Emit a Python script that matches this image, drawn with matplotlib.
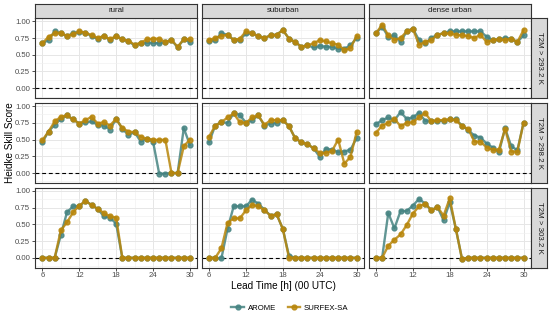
import numpy as np
import matplotlib
matplotlib.use("Agg")
import matplotlib.pyplot as plt
from matplotlib.lines import Line2D
from matplotlib.ticker import MultipleLocator

plt.rcParams['font.family'] = ['Liberation Sans', 'DejaVu Sans']

hours = list(range(6, 31))
areas = ['rural', 'suburban', 'dense urban']
thresholds = ['T2M > 293.2 K', 'T2M > 298.2 K', 'T2M > 303.2 K']

# T2M > 293.2 K
arome_rural_293 = [0.67, 0.72, 0.85, 0.82, 0.78, 0.82, 0.84, 0.83, 0.78, 0.74, 0.78, 0.72, 0.78,
                   0.73, 0.70, 0.64, 0.67, 0.68, 0.68, 0.67, 0.69, 0.72, 0.61, 0.73, 0.69]
surfex_rural_293 = [0.67, 0.77, 0.82, 0.83, 0.78, 0.81, 0.85, 0.83, 0.79, 0.75, 0.78, 0.73, 0.78,
                    0.73, 0.71, 0.65, 0.68, 0.73, 0.74, 0.74, 0.69, 0.72, 0.62, 0.73, 0.73]
arome_suburban_293 = [0.70, 0.72, 0.82, 0.80, 0.72, 0.72, 0.82, 0.82, 0.78, 0.75, 0.79, 0.80, 0.87,
                      0.74, 0.69, 0.62, 0.64, 0.61, 0.63, 0.62, 0.62, 0.59, 0.59, 0.64, 0.75]
surfex_suburban_293 = [0.72, 0.75, 0.78, 0.80, 0.72, 0.74, 0.85, 0.82, 0.78, 0.75, 0.79, 0.80, 0.87,
                       0.74, 0.69, 0.62, 0.64, 0.67, 0.72, 0.70, 0.67, 0.65, 0.57, 0.60, 0.78]
arome_dense_293 = [0.82, 0.92, 0.77, 0.79, 0.69, 0.85, 0.89, 0.72, 0.67, 0.75, 0.80, 0.82, 0.85,
                   0.85, 0.85, 0.85, 0.85, 0.85, 0.77, 0.72, 0.73, 0.75, 0.74, 0.69, 0.79]
surfex_dense_293 = [0.82, 0.95, 0.79, 0.72, 0.75, 0.85, 0.89, 0.65, 0.69, 0.72, 0.80, 0.82, 0.82,
                    0.80, 0.79, 0.78, 0.75, 0.80, 0.69, 0.72, 0.73, 0.72, 0.74, 0.69, 0.87]

# T2M > 298.2 K
arome_rural_298 = [0.46, 0.62, 0.72, 0.81, 0.86, 0.80, 0.74, 0.76, 0.77, 0.72, 0.71, 0.65, 0.81,
                   0.66, 0.57, 0.61, 0.47, 0.51, 0.47, -0.01, -0.01, 0.0, 0.0, 0.67, 0.42]
surfex_rural_298 = [0.49, 0.62, 0.77, 0.84, 0.86, 0.80, 0.74, 0.79, 0.84, 0.74, 0.76, 0.71, 0.81,
                    0.67, 0.62, 0.61, 0.54, 0.51, 0.50, 0.49, 0.50, 0.0, 0.0, 0.40, 0.50]
arome_suburban_298 = [0.46, 0.71, 0.76, 0.75, 0.89, 0.87, 0.75, 0.79, 0.86, 0.71, 0.74, 0.75, 0.79,
                      0.70, 0.52, 0.46, 0.43, 0.37, 0.24, 0.36, 0.35, 0.31, 0.32, 0.35, 0.52]
surfex_suburban_298 = [0.54, 0.71, 0.76, 0.83, 0.89, 0.76, 0.75, 0.83, 0.86, 0.72, 0.79, 0.79, 0.79,
                       0.70, 0.52, 0.46, 0.43, 0.37, 0.30, 0.30, 0.33, 0.50, 0.14, 0.24, 0.61]
arome_dense_298 = [0.73, 0.79, 0.83, 0.79, 0.91, 0.81, 0.83, 0.90, 0.78, 0.78, 0.78, 0.78, 0.80,
                   0.80, 0.71, 0.64, 0.56, 0.53, 0.44, 0.38, 0.31, 0.67, 0.40, 0.34, 0.75]
surfex_dense_298 = [0.60, 0.71, 0.75, 0.81, 0.70, 0.75, 0.76, 0.83, 0.90, 0.77, 0.79, 0.79, 0.80,
                    0.79, 0.70, 0.66, 0.47, 0.47, 0.38, 0.35, 0.35, 0.66, 0.32, 0.32, 0.75]

# T2M > 303.2 K
arome_rural_303 = [0, 0, 0, 0.34, 0.68, 0.77, 0.77, 0.85, 0.79, 0.73, 0.62, 0.60, 0.51,
                   0, 0, 0, 0, 0, 0, 0, 0, 0, 0, 0, 0]
surfex_rural_303 = [0, 0, 0, 0.41, 0.53, 0.68, 0.78, 0.85, 0.79, 0.73, 0.67, 0.62, 0.60,
                    0, 0, 0, 0, 0, 0, 0, 0, 0, 0, 0, 0]
arome_suburban_303 = [0, 0, -0.01, 0.43, 0.77, 0.77, 0.77, 0.87, 0.81, 0.72, 0.63, 0.65, 0.43,
                      0.03, 0, 0, 0, 0, 0, 0, 0, 0, 0, 0, 0]
surfex_suburban_303 = [0, 0, 0.14, 0.52, 0.59, 0.59, 0.71, 0.79, 0.77, 0.71, 0.63, 0.65, 0.43,
                       0, 0, 0, 0, 0, 0, 0, 0, 0, 0, 0, 0]
arome_dense_303 = [0, 0, 0.67, 0.44, 0.70, 0.70, 0.78, 0.88, 0.81, 0.71, 0.76, 0.56, 0.83,
                   0.43, -0.02, 0, 0, 0, 0, 0, 0, 0, 0, 0, 0]
surfex_dense_303 = [0, 0, 0.18, 0.27, 0.35, 0.49, 0.66, 0.77, 0.81, 0.71, 0.76, 0.63, 0.89,
                    0.43, -0.02, 0, 0, 0, 0, 0, 0, 0, 0, 0, 0]

arome = [[arome_rural_293, arome_suburban_293, arome_dense_293],
         [arome_rural_298, arome_suburban_298, arome_dense_298],
         [arome_rural_303, arome_suburban_303, arome_dense_303]]
surfex = [[surfex_rural_293, surfex_suburban_293, surfex_dense_293],
          [surfex_rural_298, surfex_suburban_298, surfex_dense_298],
          [surfex_rural_303, surfex_suburban_303, surfex_dense_303]]

c_arome = '#468482'
c_surfex = '#b8860b'
grey = '#333333'

W, H = 550, 321
fig = plt.figure(figsize=(W / 100, H / 100), dpi=100)

def box(x0, y0, w, h):
    return [x0 / W, 1 - (y0 + h) / H, w / W, h / H]

col_x = [35, 201.7, 368.6]
row_y = [18.3, 103.1, 187.9]
pw, ph = 162.3, 79.6

for r in range(3):
    for c in range(3):
        ax = fig.add_axes(box(col_x[c], row_y[r], pw, ph))
        ax.set_xlim(4.8, 31.2)
        ax.set_ylim(-0.145, 1.045)
        ax.xaxis.set_major_locator(MultipleLocator(6))
        ax.xaxis.set_minor_locator(MultipleLocator(3))
        ax.yaxis.set_major_locator(MultipleLocator(0.25))
        ax.yaxis.set_minor_locator(MultipleLocator(0.125))
        ax.grid(which='major', color='#e6e6e6', lw=0.7)
        ax.grid(which='minor', color='#f0f0f0', lw=0.45)
        ax.set_axisbelow(True)
        for s in ax.spines.values():
            s.set_color(grey)
            s.set_linewidth(0.8)
        ax.tick_params(which='minor', length=0)
        ax.tick_params(which='major', length=2, width=0.6, color=grey,
                       labelsize=5.6, labelcolor='#4d4d4d', pad=1.5)
        if c > 0:
            ax.tick_params(axis='y', length=0, labelleft=False)
        else:
            ax.yaxis.set_major_formatter(matplotlib.ticker.FormatStrFormatter('%.2f'))
        if r < 2:
            ax.tick_params(axis='x', length=0, labelbottom=False)
        ax.axhline(0, color='black', ls=(0, (3.5, 2.5)), lw=0.8, zorder=2)
        ax.plot(hours, arome[r][c], color=c_arome, lw=1.7, marker='o', ms=3.5,
                alpha=0.85, zorder=3)
        ax.plot(hours, surfex[r][c], color=c_surfex, lw=1.7, marker='o', ms=3.5,
                alpha=0.85, zorder=4)

        if r == 0:
            sx = fig.add_axes(box(col_x[c], 3.5, pw, 14.8))
            sx.set_facecolor('#d9d9d9')
            sx.set_xticks([])
            sx.set_yticks([])
            for s in sx.spines.values():
                s.set_color(grey)
                s.set_linewidth(0.8)
            sx.text(0.5, 0.5, areas[c], ha='center', va='center', fontsize=5.7,
                    color='#1a1a1a', transform=sx.transAxes)
        if c == 2:
            sy = fig.add_axes(box(531, row_y[r], 16, ph))
            sy.set_facecolor('#d9d9d9')
            sy.set_xticks([])
            sy.set_yticks([])
            for s in sy.spines.values():
                s.set_color(grey)
                s.set_linewidth(0.8)
            sy.text(0.5, 0.5, thresholds[r], ha='center', va='center', fontsize=5.7,
                    color='#1a1a1a', rotation=-90, transform=sy.transAxes)

fig.text(10 / W, 1 - 143 / H, 'Heidke Skill Score', rotation=90, ha='center',
         va='center', fontsize=7.2)
fig.text(283 / W, 1 - 286 / H, 'Lead Time [h] (00 UTC)', ha='center', va='center',
         fontsize=7.2)

handles = [Line2D([], [], color=c_arome, lw=1.7, marker='o', ms=3.5, alpha=0.85),
           Line2D([], [], color=c_surfex, lw=1.7, marker='o', ms=3.5, alpha=0.85)]
fig.legend(handles, ['AROME', 'SURFEX-SA'], loc='center', ncol=2,
           bbox_to_anchor=(290 / W, 1 - 308 / H), frameon=False, fontsize=5.6,
           handlelength=1.6, columnspacing=1.5, handletextpad=0.5)

fig.savefig('out.png', dpi=100)
